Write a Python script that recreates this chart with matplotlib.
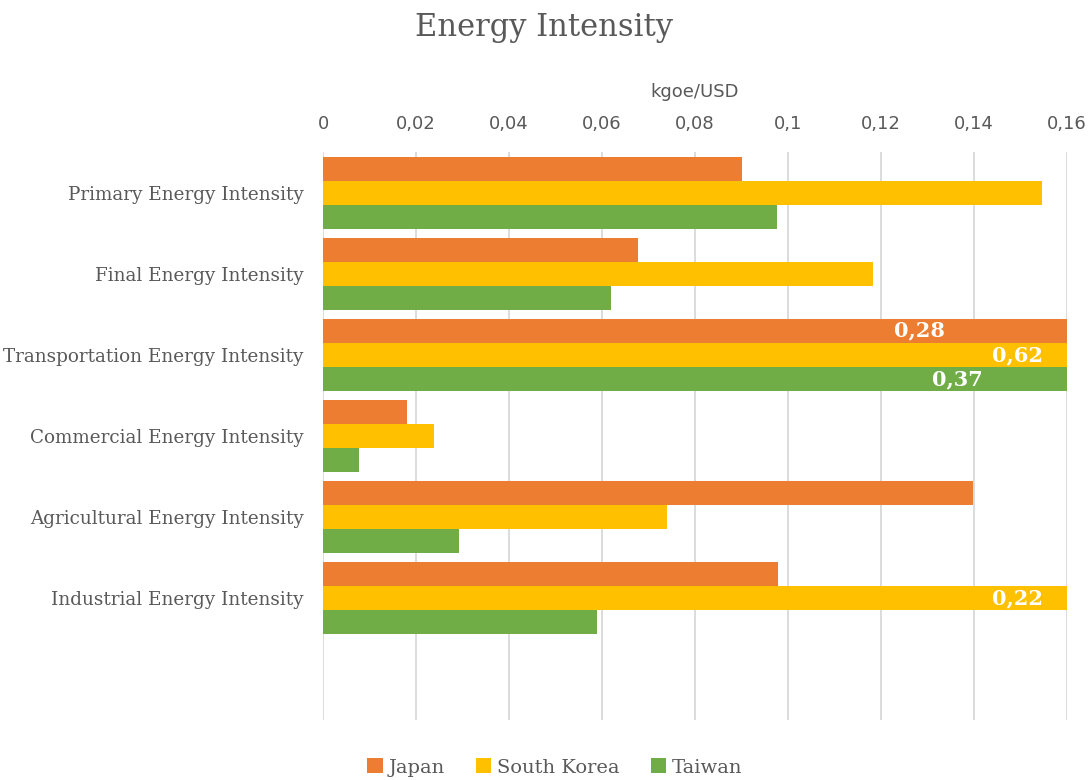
import numpy as np
import matplotlib

matplotlib.use("Agg")
import matplotlib.pyplot as plt
from matplotlib.ticker import FuncFormatter

categories = [
    "Primary Energy Intensity",
    "Final Energy Intensity",
    "Transportation Energy Intensity",
    "Commercial Energy Intensity",
    "Agricultural Energy Intensity",
    "Industrial Energy Intensity",
]
series_names = ["Japan", "South Korea", "Taiwan"]
japan = [0.090, 0.0677, 0.28, 0.0181, 0.1398, 0.0978]
south_korea = [0.1546, 0.1183, 0.62, 0.0239, 0.074, 0.22]
taiwan = [0.0976, 0.0619, 0.37, 0.0077, 0.0292, 0.0589]
# where Excel put the labels of the cut-off bars (right edge, in axis units)
label_right = {"Japan": 0.1337, "South Korea": 0.1548, "Taiwan": 0.1419}
colors = ["#ED7D31", "#FFC000", "#70AD47"]
x_max = 0.16

serif = ["DejaVu Serif"]
sans = ["DejaVu Sans"]
text_gray = "#595959"

fig = plt.figure(figsize=(10.88, 7.8), dpi=100)
ax = fig.add_axes([0.2969, 0.0769, 0.6838, 0.7282])

bar_h = 0.296
n_slots = len(categories) + 1
for i, (name, values, color) in enumerate(zip(series_names, [japan, south_korea, taiwan], colors)):
    y = np.arange(len(categories)) + (i - 1) * bar_h
    ax.barh(y, values, height=bar_h, color=color, label=name, zorder=2)
    for yy, v in zip(y, values):
        if v > x_max:
            label = f"{v:.2f}".replace(".", ",")
            ax.text(label_right[name], yy, label, ha="right", va="center", color="white",
                    fontsize=15, fontweight="bold", family=serif, zorder=3)

ax.set_xlim(0, x_max)
ax.set_ylim(n_slots - 0.5, -0.5)
ax.set_yticks(np.arange(len(categories)), labels=categories)
ax.set_xticks(np.arange(0, x_max + 1e-9, 0.02))
ax.xaxis.set_major_formatter(FuncFormatter(lambda v, p: "0" if v == 0 else f"{v:g}".replace(".", ",")))
ax.xaxis.tick_top()
ax.xaxis.set_label_position("top")
ax.set_xlabel("kgoe/USD", fontsize=13, color=text_gray, family=sans, labelpad=13)
ax.tick_params(axis="x", length=0, pad=14, labelsize=13, labelcolor=text_gray)
ax.tick_params(axis="y", length=0, pad=14, labelsize=13.2, labelcolor=text_gray)
for lab in ax.get_xticklabels():
    lab.set_family(sans)
for lab in ax.get_yticklabels():
    lab.set_family(serif)
ax.grid(axis="x", color="#D9D9D9", linewidth=1.3, zorder=0)
for s in ax.spines.values():
    s.set_visible(False)

fig.suptitle("Energy Intensity", y=0.985, fontsize=22, color=text_gray, family=serif)
fig.legend(loc="lower center", bbox_to_anchor=(0.51, -0.018), ncol=3, frameon=False,
           prop={"family": serif, "size": 14}, handlelength=0.8, handleheight=0.8,
           handletextpad=0.3, columnspacing=1.6, labelcolor=text_gray)

fig.savefig("out.png", dpi=100)
